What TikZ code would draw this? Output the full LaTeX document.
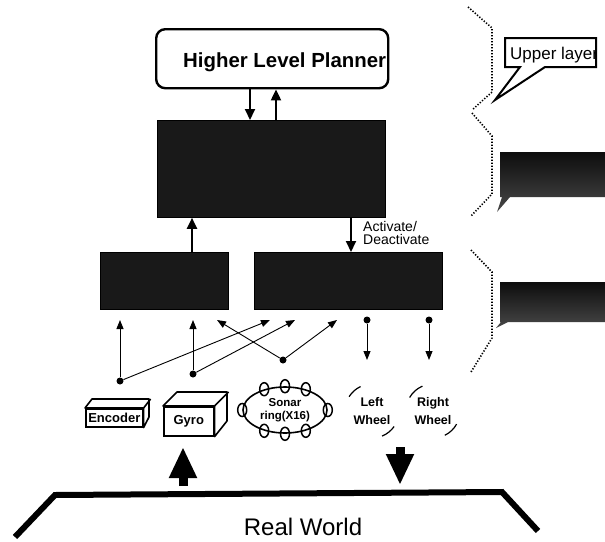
\documentclass[tikz,border=0pt]{standalone}
\usepackage{fontspec}
\setmainfont{Liberation Sans}
\usetikzlibrary{arrows.meta,shapes.geometric}

\begin{document}
\begin{tikzpicture}[x=1pt,y=-1pt,
  thin arrow/.style={line width=0.9pt,-{Triangle[width=7pt,length=9pt]}},
  thick arrow/.style={line width=2pt,-{Triangle[width=10pt,length=11pt]}},
  block arrow/.style={line width=9pt,-{Triangle[width=26pt,length=31pt]}},
  darkbox/.style={draw=black,fill=black!90,line width=0.8pt,anchor=north west,inner sep=0pt},
  hub/.style={circle,fill=black,inner sep=0pt,minimum size=7pt},
  cubeface/.style={draw=black,line width=1.6pt,fill=white,line join=round},
  cubefront/.style={draw=black,line width=1.6pt,fill=white,anchor=north west,inner sep=0pt,
    font=\fontsize{13}{14}\selectfont\bfseries},
  wheel/.style={align=center,inner sep=0pt,font=\fontsize{12.5}{18}\selectfont\bfseries},
  layerbrace/.style={line width=1.6pt,dash pattern=on 1.3pt off 1.7pt},
  darkcallout/.style={top color=black!95,bottom color=black!72}]

\useasboundingbox (0,0) rectangle (605,541);

% ---- planner and behaviour layers ----
\node[draw=black,line width=2.4pt,rounded corners=9pt,fill=white,anchor=north west,
      minimum width=232pt,minimum height=59pt,inner sep=0pt] (hlp) at (155,28) {};
\node[anchor=base west,inner sep=0pt,font=\fontsize{20.4}{24}\selectfont\bfseries] (hlptext) at (183,67) {Higher Level Planner};

\node[darkbox,minimum width=228pt,minimum height=97pt] (core) at (157,120) {};
\node[darkbox,minimum width=128pt,minimum height=57pt] (lbox) at (100,252) {};
\node[darkbox,minimum width=188pt,minimum height=57pt] (rbox) at (254,252) {};

\draw[thick arrow] ([xshift=95pt]hlp.south west) -- ([xshift=93pt]core.north west);
\draw[thick arrow] ([xshift=119pt]core.north west) -- ([xshift=121pt]hlp.south west);
\draw[thick arrow] ([xshift=92pt]lbox.north west) -- ([xshift=35pt]core.south west);
\draw[thick arrow] ([xshift=194pt]core.south west) -- ([xshift=97pt]rbox.north west);
\node[anchor=north west,align=left,inner sep=0pt,font=\fontsize{14}{13}\selectfont] (actlabel) at (363,221) {Activate/\\Deactivate};

% ---- sensor / actuator wiring ----
\node[hub] (h1) at (120,381) {};
\node[hub] (h2) at (193,374) {};
\node[hub] (h3) at (283,360) {};
\node[hub] (h4) at (367,320) {};
\node[hub] (h5) at (429,320) {};
\coordinate (l1) at (120,320);
\coordinate (r1) at (270,320);
\coordinate (l2) at (193,320);
\coordinate (r2) at (295,320);
\coordinate (l3) at (217,320);
\coordinate (r3) at (337,320);
\coordinate (m4) at (367,360);
\coordinate (m5) at (429,360);
\draw[thin arrow] (h1) -- (l1);
\draw[thin arrow] (h1) -- (r1);
\draw[thin arrow] (h2) -- (l2);
\draw[thin arrow] (h2) -- (r2);
\draw[thin arrow] (h3) -- (l3);
\draw[thin arrow] (h3) -- (r3);
\draw[thin arrow] (h4) -- (m4);
\draw[thin arrow] (h5) -- (m5);

% ---- sensors ----
\node[cubefront,minimum width=57pt,minimum height=18pt] (enc) at (85,408) {Encoder};
\draw[cubeface] (enc.north west) -- ++(7,-9) -- ++(57,0) -- ++(0,18) -- (enc.south east) -- (enc.north east) -- cycle;
\draw[line width=1.6pt] (enc.north east) -- ++(7,-9);

\node[cubefront,minimum width=50pt,minimum height=29pt] (gyro) at (163,406) {Gyro};
\draw[cubeface] (gyro.north west) -- ++(14,-14) -- ++(50,0) -- ++(0,29) -- (gyro.south east) -- (gyro.north east) -- cycle;
\draw[line width=1.6pt] (gyro.north east) -- ++(14,-14);

\node[ellipse,draw=black,line width=1.6pt,minimum width=84pt,minimum height=46pt,inner sep=0pt,
      align=center,font=\fontsize{11.5}{13.5}\selectfont\bfseries] (sonar) at (285,410) {Sonar\\ring(X16)};
\foreach \a in {0,45,...,315}
  \draw[line width=1.5pt] (sonar.\a) ellipse [x radius=4.5, y radius=6.5];

% ---- wheels ----
\node[wheel] (lw) at (372,411) {Left\\Wheel};
\node[wheel] (rw) at (433,411) {Right\\Wheel};
\draw[line width=1.2pt] (lw.center) ++(-148:27) arc[start angle=-148,end angle=-115,radius=27];
\draw[line width=1.2pt] (lw.center) ++(35:27) arc[start angle=35,end angle=68,radius=27];
\draw[line width=1.2pt] (rw.center) ++(-150:27) arc[start angle=-150,end angle=-113,radius=27];
\draw[line width=1.2pt] (rw.center) ++(29:27) arc[start angle=29,end angle=64,radius=27];

% ---- real world ----
\draw[line width=6pt,line join=miter] (15,537) -- (55,495) -- (502,492) -- (538,531);
\node[anchor=base,inner sep=0pt,font=\fontsize{24}{28}\selectfont] (world) at (303,535) {Real World};
\coordinate (senseBase) at (183,486);
\coordinate (senseTip) at (183,447);
\coordinate (actTop) at (400,447);
\coordinate (actTip) at (400,485);
\draw[block arrow] (senseBase) -- (senseTip);
\draw[block arrow] (actTop) -- (actTip);

% ---- layer braces and call-outs ----
\draw[layerbrace] (468,7) -- (492,28) -- (492,92) -- (472,110);
\draw[layerbrace] (472,113) -- (492,136) -- (492,194) -- (471,216);
\draw[layerbrace] (471,250) -- (492,272) -- (492,338) -- (471,372);

\fill[white] (505,38) -- (596,38) -- (596,67) -- (545,67) -- (495,100) -- (520,67) -- (505,67) -- cycle;
\begin{scope}
  \clip (506,39) rectangle (595,66);
  \node[anchor=base west,inner sep=0pt,font=\fontsize{17}{19}\selectfont] (uppertxt) at (510,59) {Upper layer};
\end{scope}
\draw[line width=2pt,line join=miter] (505,38) -- (596,38) -- (596,67) -- (545,67) -- (495,100) -- (520,67) -- (505,67) -- cycle;

\shade[darkcallout] (500,152) -- (605,152) -- (605,197) -- (510,197) -- (497,212) -- (502,197) -- (500,197) -- cycle;
\shade[darkcallout] (500,282) -- (605,282) -- (605,322) -- (508,322) -- (496,328) -- (501,322) -- (500,322) -- cycle;

\end{tikzpicture}
\end{document}
